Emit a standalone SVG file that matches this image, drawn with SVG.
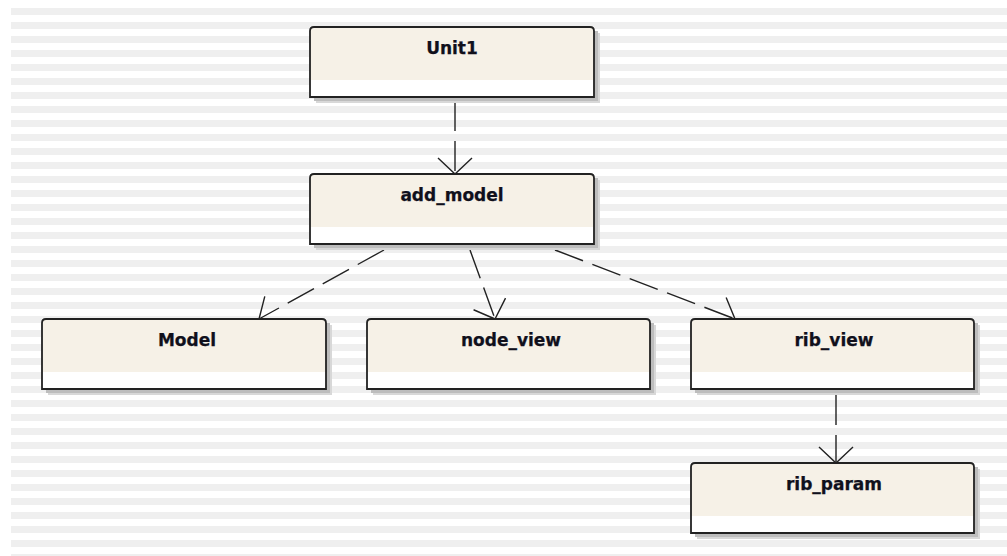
<svg xmlns="http://www.w3.org/2000/svg" width="1007" height="556" viewBox="0 0 1007 556">
<defs>
<pattern id="stripes" patternUnits="userSpaceOnUse" x="11" y="8" width="14" height="14">
<rect x="0" y="0" width="14" height="7" fill="#efefef"/>
</pattern>
<marker id="vhead" markerUnits="userSpaceOnUse" markerWidth="40" markerHeight="40" refX="0" refY="0" viewBox="-20 -20 40 40" orient="auto" overflow="visible">
<path d="M-16,-17 L0,0 L-16,17" fill="none" stroke="#222" stroke-width="1.4"/>
</marker>
</defs>
<style>
.shadow{fill:#bdbdbd}
.shadow2{fill:#d8d8d8}
.body{fill:#f6f1e7}
.band{fill:#ffffff}
.border{fill:none;stroke:#222;stroke-width:1.8}
.label{font-family:"DejaVu Sans","Verdana",sans-serif;font-weight:bold;font-size:17px;fill:#10101c;stroke:#10101c;stroke-width:0.25;text-anchor:middle}
.conn{fill:none;stroke:#222;stroke-width:1.4;stroke-dasharray:30 10;marker-end:url(#vhead)}
</style>
<rect x="0" y="0" width="1007" height="556" fill="#ffffff"/>
<rect x="11" y="8" width="996" height="548" fill="url(#stripes)"/>

<g id="connectors">
<path class="conn" d="M455,101 L455,174"/>
<path class="conn" d="M384,250 L259,319"/>
<path class="conn" d="M470,250 L495,319"/>
<path class="conn" d="M555,250 L735,319"/>
<path class="conn" d="M836,395 L836,463"/>
</g>

<g id="unit1">
<rect class="shadow2" x="316" y="33" width="284" height="70"/>
<rect class="shadow" x="314" y="31" width="284" height="70"/>
<path class="body" d="M310,31 Q310,27 314,27 H590 Q594,27 594,31 V97 H310 Z"/>
<rect class="band" x="310" y="80" width="284" height="17"/>
<path class="border" d="M310,31 Q310,27 314,27 H590 Q594,27 594,31 V97 H310 Z"/>
<text class="label" x="452" y="54">Unit1</text>
</g>

<g id="add_model">
<rect class="shadow2" x="316" y="180" width="284" height="70"/>
<rect class="shadow" x="314" y="178" width="284" height="70"/>
<path class="body" d="M310,178 Q310,174 314,174 H590 Q594,174 594,178 V244 H310 Z"/>
<rect class="band" x="310" y="227" width="284" height="17"/>
<path class="border" d="M310,178 Q310,174 314,174 H590 Q594,174 594,178 V244 H310 Z"/>
<text class="label" x="452" y="201">add_model</text>
</g>

<g id="model">
<rect class="shadow2" x="48" y="325" width="284" height="70"/>
<rect class="shadow" x="46" y="323" width="284" height="70"/>
<path class="body" d="M42,323 Q42,319 46,319 H322 Q326,319 326,323 V389 H42 Z"/>
<rect class="band" x="42" y="372" width="284" height="17"/>
<path class="border" d="M42,323 Q42,319 46,319 H322 Q326,319 326,323 V389 H42 Z"/>
<text class="label" x="187" y="346">Model</text>
</g>

<g id="node_view">
<rect class="shadow2" x="373" y="325" width="283" height="70"/>
<rect class="shadow" x="371" y="323" width="283" height="70"/>
<path class="body" d="M367,323 Q367,319 371,319 H646 Q650,319 650,323 V389 H367 Z"/>
<rect class="band" x="367" y="372" width="283" height="17"/>
<path class="border" d="M367,323 Q367,319 371,319 H646 Q650,319 650,323 V389 H367 Z"/>
<text class="label" x="511" y="346">node_view</text>
</g>

<g id="rib_view">
<rect class="shadow2" x="697" y="325" width="283" height="70"/>
<rect class="shadow" x="695" y="323" width="283" height="70"/>
<path class="body" d="M691,323 Q691,319 695,319 H970 Q974,319 974,323 V389 H691 Z"/>
<rect class="band" x="691" y="372" width="283" height="17"/>
<path class="border" d="M691,323 Q691,319 695,319 H970 Q974,319 974,323 V389 H691 Z"/>
<text class="label" x="834" y="346">rib_view</text>
</g>

<g id="rib_param">
<rect class="shadow2" x="697" y="469" width="283" height="70"/>
<rect class="shadow" x="695" y="467" width="283" height="70"/>
<path class="body" d="M691,467 Q691,463 695,463 H970 Q974,463 974,467 V533 H691 Z"/>
<rect class="band" x="691" y="516" width="283" height="17"/>
<path class="border" d="M691,467 Q691,463 695,463 H970 Q974,463 974,467 V533 H691 Z"/>
<text class="label" x="834" y="490">rib_param</text>
</g>
</svg>
